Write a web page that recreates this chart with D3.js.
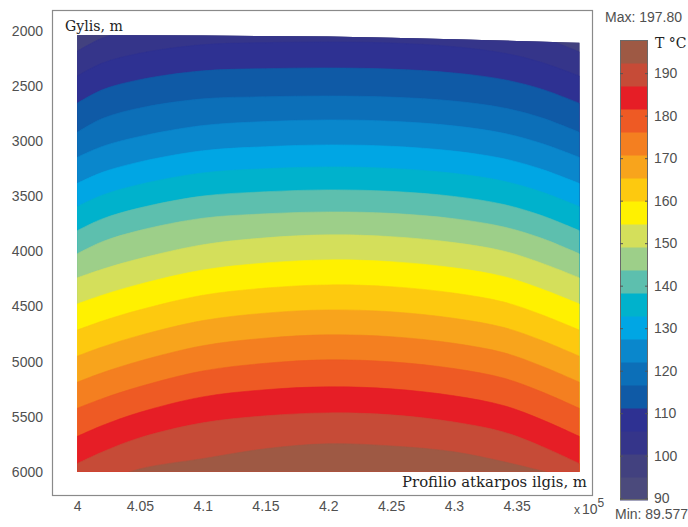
<!DOCTYPE html>
<html>
<head>
<meta charset="utf-8">
<script src="https://cdn.jsdelivr.net/npm/d3@7/dist/d3.min.js"></script>
<style>
  body { margin: 0; background: #fff; }
  svg { display: block; }
  .tick text { font-family: "Liberation Sans", Arial, sans-serif; font-size: 14px; fill: #505050; }
</style>
</head>
<body>
<svg id="chart" width="688" height="527"></svg>
<script>
const xPos = [4.0, 4.02, 4.05, 4.1, 4.15, 4.2, 4.25, 4.3, 4.34, 4.37, 4.4]

// top surface of the section
const surfaceX = [4.0, 4.1, 4.2, 4.25, 4.3, 4.4]
const surfaceDepth = [2036, 2042, 2050, 2062, 2075, 2108]
const bottomDepth = 6000

// 20 contour bands between min and max temperature
const levels = [89.577, 94.988, 100.399, 105.810, 111.222, 116.633, 122.044, 127.455, 132.866, 138.277,
  143.689, 149.100, 154.511, 159.922, 165.333, 170.744, 176.155, 181.567, 186.978, 192.389, 197.800]

const bandColors = ["#4b4a7c", "#42417f", "#35358a", "#2e3192", "#0f5aa6", "#0c6fb8", "#0a87cc", "#00a6e4",
  "#00b2cc", "#5dbfae", "#9dcf89", "#d4df5b", "#fff100", "#fdc90f", "#f8a41c", "#f47f20",
  "#ee5a24", "#e61e26", "#c64b37", "#9e5944"]

// depth (m) of each interior level (levels[1]..levels[19]) at xPos
const isotherms = [
  [1936, 1826, 1742, 1669, 1652, 1646, 1655, 1687, 1742, 1820, 1936],
  [2185, 2065, 1975, 1897, 1879, 1873, 1882, 1915, 1975, 2060, 2190],
  [2410, 2292, 2202, 2125, 2106, 2100, 2109, 2143, 2202, 2286, 2410],
  [2656, 2534, 2442, 2362, 2342, 2336, 2346, 2381, 2442, 2528, 2656],
  [2920, 2795, 2699, 2616, 2597, 2590, 2600, 2636, 2699, 2788, 2920],
  [3147, 3048, 2957, 2858, 2822, 2807, 2819, 2861, 2929, 3021, 3147],
  [3384, 3283, 3188, 3087, 3050, 3034, 3046, 3090, 3160, 3255, 3384],
  [3594, 3490, 3392, 3288, 3250, 3234, 3247, 3292, 3364, 3461, 3594],
  [3812, 3705, 3605, 3498, 3459, 3442, 3455, 3501, 3575, 3675, 3812],
  [4022, 3912, 3809, 3699, 3659, 3642, 3655, 3703, 3779, 3881, 4022],
  [4240, 4162, 4065, 3940, 3877, 3850, 3866, 3920, 3998, 4107, 4240],
  [4477, 4397, 4297, 4169, 4105, 4077, 4093, 4149, 4229, 4341, 4477],
  [4714, 4632, 4530, 4398, 4333, 4304, 4320, 4378, 4460, 4575, 4714],
  [4951, 4867, 4762, 4628, 4560, 4531, 4548, 4607, 4691, 4808, 4951],
  [5187, 5101, 4994, 4856, 4787, 4757, 4774, 4834, 4920, 5041, 5187],
  [5424, 5336, 5226, 5085, 5015, 4984, 5002, 5063, 5151, 5274, 5424],
  [5679, 5580, 5460, 5320, 5255, 5229, 5247, 5310, 5400, 5526, 5679],
  [5925, 5820, 5690, 5555, 5492, 5465, 5483, 5548, 5640, 5769, 5925],
  [6163, 6091, 5973, 5880, 5790, 5745, 5765, 5818, 5909, 5991, 6072]
]

const yTicks = [2000, 2500, 3000, 3500, 4000, 4500, 5000, 5500, 6000]
const xTicks = [4, 4.05, 4.1, 4.15, 4.2, 4.25, 4.3, 4.35]
const barTicks = [90, 100, 110, 120, 130, 140, 150, 160, 170, 180, 190]

const svg = d3.select("#chart")

const box = { left: 52, right: 592, top: 10, bottom: 495 }

const x = d3.scaleLinear().domain([3.98, 4.41]).range([box.left, box.right])
const y = d3.scaleLinear().domain([1810, 6210]).range([box.top, box.bottom])

// clip to the section outline
const outline = d3.area()
  .x((d, i) => x(surfaceX[i]))
  .y0(y(bottomDepth))
  .y1(d => y(d))

svg.append("clipPath")
  .attr("id", "section")
  .append("path")
  .attr("d", outline(surfaceDepth))

const bands = svg.append("g").attr("clip-path", "url(#section)")

bands.append("rect")
  .attr("x", x(4.0) - 2)
  .attr("y", y(1810))
  .attr("width", x(4.4) - x(4.0) + 4)
  .attr("height", y(bottomDepth) - y(1810) + 2)
  .attr("fill", bandColors[0])

const bandArea = d3.area()
  .x((d, i) => x(xPos[i]))
  .y0(y(bottomDepth) + 4)
  .y1(d => y(d))
  .curve(d3.curveCatmullRom.alpha(0.5))

bands.selectAll(".band")
  .data(isotherms)
  .enter()
  .append("path")
  .classed("band", true)
  .attr("d", d => bandArea(d))
  .attr("fill", (d, i) => bandColors[i + 1])
  .attr("stroke", (d, i) => bandColors[i + 1])
  .attr("stroke-width", 0.6)

// axes
const yAxis = svg.append("g")
  .attr("transform", `translate(${box.left},0)`)
  .call(d3.axisLeft(y).tickValues(yTicks).tickSize(0).tickPadding(9).tickFormat(d3.format("d")))
yAxis.select(".domain").remove()

const xAxis = svg.append("g")
  .attr("transform", `translate(0,${box.bottom})`)
  .call(d3.axisBottom(x).tickValues(xTicks).tickSize(0).tickPadding(6).tickFormat(d3.format("~g")))
xAxis.select(".domain").remove()

svg.append("rect")
  .attr("x", box.left + 0.5)
  .attr("y", box.top + 0.5)
  .attr("width", box.right - box.left)
  .attr("height", box.bottom - box.top)
  .attr("fill", "none")
  .attr("stroke", "#8a8a8a")
  .attr("stroke-width", 1.2)

// exponent label
const expo = svg.append("text")
  .attr("x", 574)
  .attr("y", 514)
  .attr("font-family", "Liberation Sans, Arial, sans-serif")
  .attr("fill", "#505050")
expo.append("tspan").attr("font-size", 12).text("x")
expo.append("tspan").attr("font-size", 14).attr("dx", 2).text("10")
expo.append("tspan").attr("font-size", 12).attr("dy", -7).text("5")

// axis titles in white boxes
const addTitle = (txt, xp, yp, anchor, len) => {
  const g = svg.append("g")
  const rect = g.append("rect").attr("fill", "#fff")
  const t = g.append("text")
    .attr("x", xp)
    .attr("y", yp)
    .attr("text-anchor", anchor)
    .attr("font-family", "DejaVu Serif, Liberation Serif, serif")
    .attr("font-size", 14)
    .attr("fill", "#222")
    .text(txt)
  if (len) t.attr("textLength", len).attr("lengthAdjust", "spacingAndGlyphs")
  const bb = t.node().getBBox()
  rect.attr("x", bb.x - 3).attr("y", bb.y).attr("width", bb.width + 6).attr("height", bb.height + 1)
}
addTitle("Gylis, m", 65, 31, "start", 58)
addTitle("Profilio atkarpos ilgis, m", 587, 487, "end", 185)

// colour bar
const bar = { x: 620, w: 28 }
const c = d3.scaleLinear().domain([levels[0], levels[20]]).range([500, 40])

svg.selectAll(".swatch")
  .data(bandColors)
  .enter()
  .append("rect")
  .classed("swatch", true)
  .attr("x", bar.x)
  .attr("y", (d, i) => c(levels[i + 1]))
  .attr("width", bar.w)
  .attr("height", (d, i) => c(levels[i]) - c(levels[i + 1]) + 0.5)
  .attr("fill", d => d)

svg.append("rect")
  .attr("x", bar.x + 0.5)
  .attr("y", c(levels[20]) + 0.5)
  .attr("width", bar.w - 1)
  .attr("height", c(levels[0]) - c(levels[20]) - 1)
  .attr("fill", "none")
  .attr("stroke", "#6a6a6a")
  .attr("stroke-width", 1)

const barAxis = svg.append("g")
  .attr("transform", `translate(${bar.x + bar.w},0)`)
  .call(d3.axisRight(c).tickValues(barTicks).tickSize(-3).tickPadding(6))
barAxis.select(".domain").remove()
barAxis.selectAll("line").attr("stroke", "#555")
barAxis.selectAll("text").style("font-size", "14px")

svg.append("g")
  .attr("transform", `translate(${bar.x},0)`)
  .call(d3.axisLeft(c).tickValues(barTicks).tickSize(-3).tickFormat(""))
  .call(g => g.select(".domain").remove())
  .selectAll("line").attr("stroke", "#555")

svg.append("text")
  .attr("x", 605)
  .attr("y", 22)
  .attr("font-family", "Liberation Sans, Arial, sans-serif")
  .attr("font-size", 14)
  .attr("fill", "#505050")
  .text("Max: 197.80")

svg.append("text")
  .attr("x", 615)
  .attr("y", 519)
  .attr("font-family", "Liberation Sans, Arial, sans-serif")
  .attr("font-size", 14)
  .attr("fill", "#505050")
  .text("Min: 89.577")

svg.append("text")
  .attr("x", 655)
  .attr("y", 48)
  .attr("font-family", "DejaVu Serif, Liberation Serif, serif")
  .attr("font-size", 14)
  .attr("fill", "#222")
  .text("T °C")
</script>
</body>
</html>
